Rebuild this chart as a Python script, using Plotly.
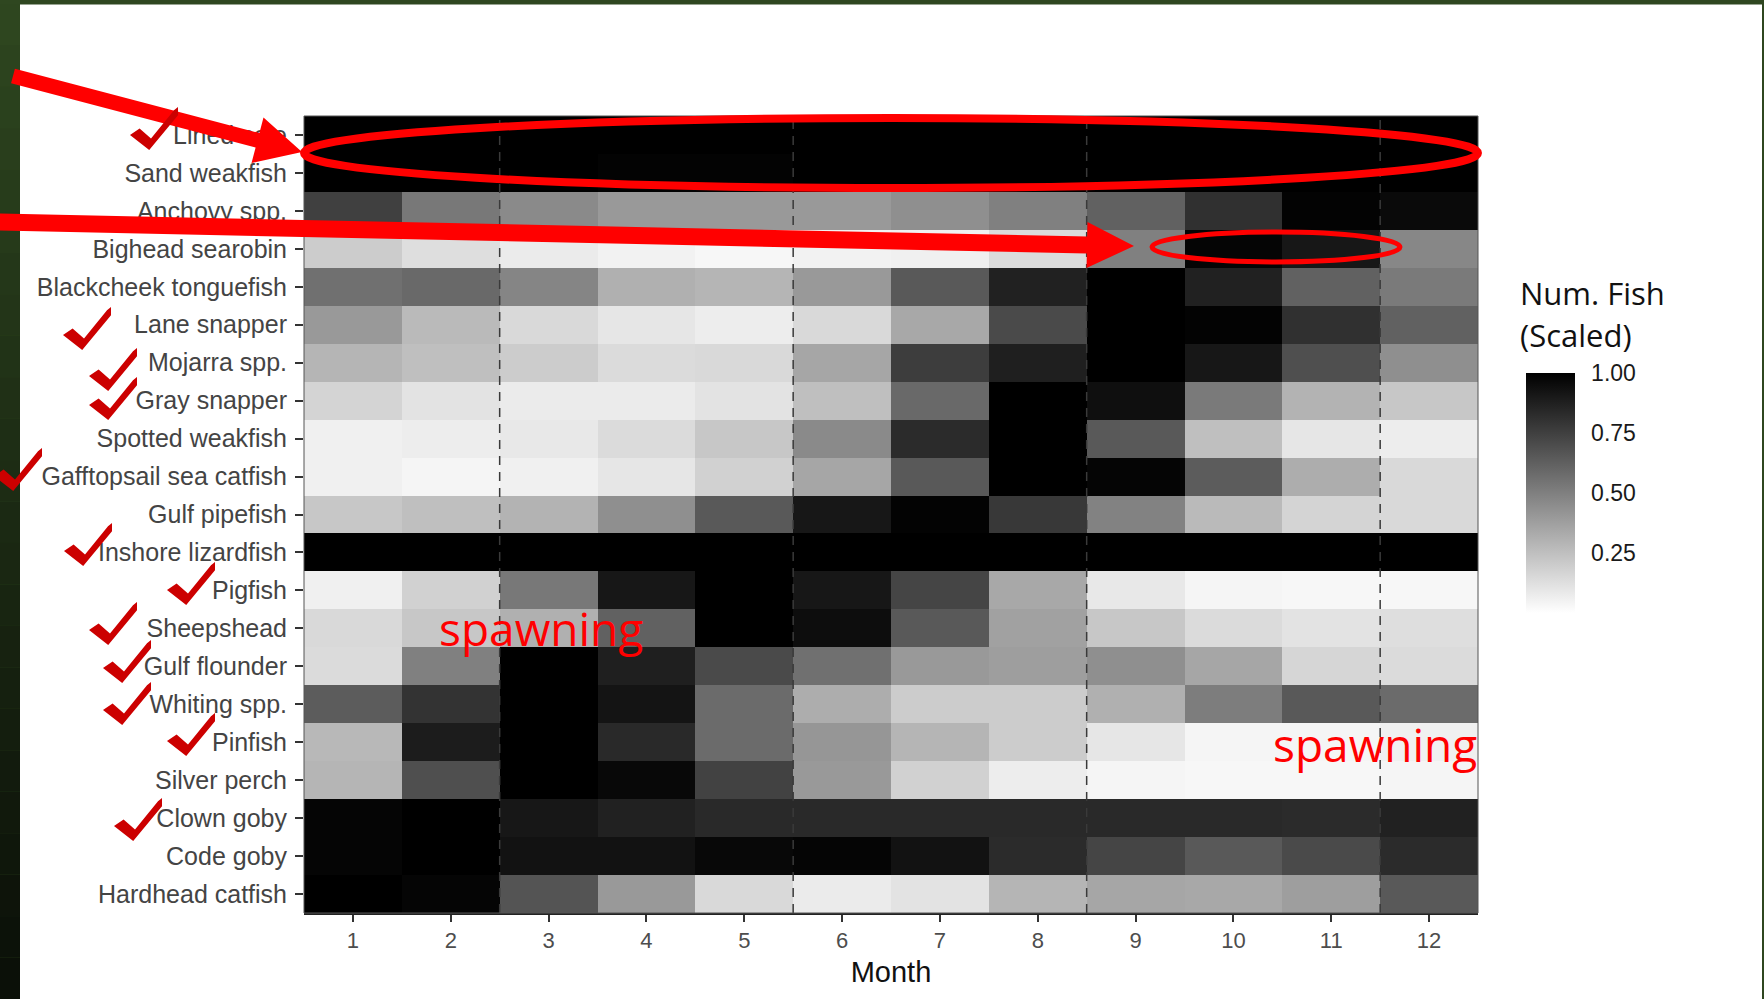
import plotly.graph_objects as go

# ---------------- data ----------------
species = ["Lined sole", "Sand weakfish", "Anchovy spp.", "Bighead searobin",
           "Blackcheek tonguefish", "Lane snapper", "Mojarra spp.", "Gray snapper",
           "Spotted weakfish", "Gafftopsail sea catfish", "Gulf pipefish",
           "Inshore lizardfish", "Pigfish", "Sheepshead", "Gulf flounder",
           "Whiting spp.", "Pinfish", "Silver perch", "Clown goby", "Code goby",
           "Hardhead catfish"]
months = [1, 2, 3, 4, 5, 6, 7, 8, 9, 10, 11, 12]
month_labels = ["1", "2", "3", "4", "5", "6", "7", "8", "9", "10", "11", "12"]

lined_sole         = [1.00, 1.00, 1.00, 1.00, 1.00, 1.00, 1.00, 1.00, 1.00, 1.00, 1.00, 1.00]
sand_weakfish      = [1.00, 1.00, 1.00, 0.99, 0.99, 1.00, 1.00, 1.00, 1.00, 1.00, 1.00, 1.00]
anchovy            = [0.75, 0.53, 0.46, 0.40, 0.40, 0.40, 0.44, 0.50, 0.62, 0.81, 0.99, 0.96]
bighead_searobin   = [0.20, 0.13, 0.08, 0.05, 0.03, 0.05, 0.06, 0.14, 0.50, 0.98, 0.91, 0.47]
blackcheek         = [0.56, 0.59, 0.48, 0.31, 0.29, 0.40, 0.65, 0.87, 1.00, 0.87, 0.62, 0.52]
lane_snapper       = [0.40, 0.27, 0.15, 0.10, 0.07, 0.15, 0.34, 0.71, 1.00, 0.99, 0.81, 0.62]
mojarra            = [0.29, 0.25, 0.20, 0.14, 0.15, 0.35, 0.76, 0.88, 1.00, 0.91, 0.69, 0.44]
gray_snapper       = [0.17, 0.11, 0.08, 0.08, 0.11, 0.25, 0.59, 1.00, 0.94, 0.52, 0.30, 0.22]
spotted_weakfish   = [0.06, 0.07, 0.09, 0.14, 0.22, 0.46, 0.83, 1.00, 0.65, 0.25, 0.10, 0.07]
gafftopsail        = [0.06, 0.04, 0.06, 0.10, 0.18, 0.35, 0.65, 1.00, 0.98, 0.64, 0.32, 0.15]
gulf_pipefish      = [0.22, 0.25, 0.30, 0.44, 0.65, 0.91, 0.99, 0.78, 0.49, 0.27, 0.17, 0.15]
inshore_lizardfish = [1.00, 1.00, 1.00, 1.00, 1.00, 1.00, 1.00, 1.00, 1.00, 1.00, 1.00, 1.00]
pigfish            = [0.06, 0.18, 0.53, 0.91, 1.00, 0.91, 0.73, 0.34, 0.09, 0.04, 0.03, 0.03]
sheepshead         = [0.15, 0.22, 0.31, 0.62, 1.00, 0.95, 0.65, 0.37, 0.22, 0.14, 0.11, 0.13]
gulf_flounder      = [0.14, 0.50, 1.00, 0.88, 0.71, 0.56, 0.40, 0.38, 0.44, 0.35, 0.16, 0.14]
whiting            = [0.64, 0.80, 1.00, 0.92, 0.58, 0.32, 0.20, 0.20, 0.31, 0.51, 0.65, 0.58]
pinfish            = [0.28, 0.89, 1.00, 0.84, 0.58, 0.41, 0.29, 0.20, 0.10, 0.04, 0.04, 0.06]
silver_perch       = [0.29, 0.69, 1.00, 0.97, 0.74, 0.40, 0.18, 0.07, 0.04, 0.03, 0.03, 0.04]
clown_goby         = [0.98, 1.00, 0.91, 0.87, 0.84, 0.84, 0.84, 0.84, 0.84, 0.84, 0.83, 0.87]
code_goby          = [0.98, 1.00, 0.93, 0.93, 0.97, 0.98, 0.93, 0.83, 0.73, 0.65, 0.71, 0.83]
hardhead_catfish   = [1.00, 0.98, 0.67, 0.40, 0.15, 0.08, 0.11, 0.29, 0.35, 0.34, 0.38, 0.65]

season_breaks = [2.5, 5.5, 8.5, 11.5]
cbar_ticks = [0.25, 0.50, 0.75, 1.00]
cbar_ticktext = ["0.25", "0.50", "0.75", "1.00"]

z = [lined_sole, sand_weakfish, anchovy, bighead_searobin, blackcheek, lane_snapper,
     mojarra, gray_snapper, spotted_weakfish, gafftopsail, gulf_pipefish,
     inshore_lizardfish, pigfish, sheepshead, gulf_flounder, whiting, pinfish,
     silver_perch, clown_goby, code_goby, hardhead_catfish]

# ---------------- layout geometry (pixels) ----------------
W, H = 1764, 999
PL, PR, PT, PB = 304, 1478, 116, 913
CB_X, CB_W, CB_TOP, CB_BOT = 1526, 49, 373, 613


def P(x, y):
    return ((x - PL) / (PR - PL), (PB - y) / (PB - PT))


def poly_path(pts):
    s = []
    for i, (x, y) in enumerate(pts):
        u, v = P(x, y)
        s.append(("M" if i == 0 else "L") + f"{u:.5f},{v:.5f}")
    return " ".join(s) + " Z"


def arrow_pts(x0, y0, x1, y1, w, hl, hw):
    dx, dy = x1 - x0, y1 - y0
    L = (dx * dx + dy * dy) ** 0.5
    ux, uy = dx / L, dy / L
    nx, ny = -uy, ux
    bx, by = x1 - ux * hl, y1 - uy * hl
    return [(x0 + nx * w / 2, y0 + ny * w / 2), (bx + nx * w / 2, by + ny * w / 2),
            (bx + nx * hw / 2, by + ny * hw / 2), (x1, y1),
            (bx - nx * hw / 2, by - ny * hw / 2), (bx - nx * w / 2, by - ny * w / 2),
            (x0 - nx * w / 2, y0 - ny * w / 2)]


CHECK = [(0, 28), (9.6, 21.5), (21, 31.4), (44, 3.3), (48, 0), (48, 8.3), (19.2, 43)]
check_pos = [(130, 107), (63, 307), (89, 348), (89, 377), (-6, 448), (64, 523),
             (167, 562), (89, 602), (103, 640), (103, 682), (167, 713), (114, 798)]

shapes = []

# background: green frame with white slide
x0p, y0p = P(0, H)
x1p, y1p = P(W, 0)
shapes.append(dict(type="rect", xref="paper", yref="paper", x0=x0p, x1=x1p, y0=y0p, y1=y1p,
                   fillcolor="#2f4720", line=dict(width=0), layer="below"))
nb = 24
for i in range(nb):
    t = i / (nb - 1)
    r = int(46 + (11 - 46) * t)
    g = int(70 + (16 - 70) * t)
    b = int(31 + (8 - 31) * t)
    a0 = P(0, 4 + i * (H - 4) / nb)
    a1 = P(20, 4 + (i + 1) * (H - 4) / nb)
    shapes.append(dict(type="rect", xref="paper", yref="paper", x0=a0[0], x1=a1[0],
                       y0=a1[1], y1=a0[1], fillcolor=f"rgb({r},{g},{b})",
                       line=dict(width=0), layer="below"))
w0 = P(20, H)
w1 = P(1762, 4.5)
shapes.append(dict(type="rect", xref="paper", yref="paper", x0=w0[0], x1=w1[0], y0=w0[1],
                   y1=w1[1], fillcolor="white", line=dict(width=0), layer="below"))

# season dashed lines
for xb in season_breaks:
    shapes.append(dict(type="line", xref="x", yref="paper", x0=xb, x1=xb, y0=0, y1=1,
                       line=dict(color="#3a3a3a", width=1.5, dash="9px,7px"), layer="above"))

# panel border
shapes.append(dict(type="rect", xref="paper", yref="paper", x0=0, x1=1, y0=0, y1=1,
                   line=dict(color="#555555", width=1), layer="above"))

# colorbar white ticks
for v in cbar_ticks[:-1]:
    yy = CB_TOP + (1 - v) * (CB_BOT - CB_TOP)
    for xa, xb2 in [(CB_X, CB_X + 9), (CB_X + CB_W - 9, CB_X + CB_W)]:
        p0 = P(xa, yy)
        p1 = P(xb2, yy)
        shapes.append(dict(type="line", xref="paper", yref="paper", x0=p0[0], x1=p1[0],
                           y0=p0[1], y1=p1[1], line=dict(color="white", width=1.5),
                           layer="above"))

# red ellipses
e0 = P(304, 188)
e1 = P(1478, 118)
shapes.append(dict(type="circle", xref="paper", yref="paper", x0=e0[0], x1=e1[0], y0=e0[1],
                   y1=e1[1], line=dict(color="#ff0000", width=8), layer="above"))
s0 = P(1152, 262)
s1 = P(1400, 232)
shapes.append(dict(type="circle", xref="paper", yref="paper", x0=s0[0], x1=s1[0], y0=s0[1],
                   y1=s1[1], line=dict(color="#ff0000", width=5), layer="above"))

# red arrows
for a in [arrow_pts(13, 76, 302, 152, 15, 46, 47), arrow_pts(-2, 222, 1134, 246, 17, 47, 46)]:
    shapes.append(dict(type="path", xref="paper", yref="paper", path=poly_path(a),
                       fillcolor="#ff0000", line=dict(width=0), layer="above"))

# check marks
for (cx, cy) in check_pos:
    pts = [(cx + px, cy + py) for px, py in CHECK]
    shapes.append(dict(type="path", xref="paper", yref="paper", path=poly_path(pts),
                       fillcolor="#cc0000", line=dict(width=0), layer="above"))

annotations = []
for txt, (x, y) in [("spawning", (541, 628)), ("spawning", (1375, 744))]:
    u, v = P(x, y)
    annotations.append(dict(text=txt, x=u, y=v, xref="paper", yref="paper", showarrow=False,
                            xanchor="center", yanchor="middle",
                            font=dict(family="Open Sans", size=46, color="#ff0000")))
for txt, (x, y) in [("Num. Fish", (1518, 293)), ("(Scaled)", (1518, 335))]:
    u, v = P(x, y)
    annotations.append(dict(text=txt, x=u, y=v, xref="paper", yref="paper", showarrow=False,
                            xanchor="left", yanchor="middle",
                            font=dict(family="Open Sans", size=31, color="#111111")))

cbx, cby = P(CB_X, (CB_TOP + CB_BOT) / 2)
fig = go.Figure(go.Heatmap(
    z=z, x=months, y=species,
    colorscale=[[0, "#ffffff"], [1, "#000000"]], zmin=0, zmax=1,
    colorbar=dict(
        x=cbx, xref="paper", xanchor="left", xpad=0,
        y=cby, yref="paper", yanchor="middle", ypad=0,
        lenmode="pixels", len=CB_BOT - CB_TOP, thickness=CB_W, thicknessmode="pixels",
        outlinewidth=0, ticks="outside", ticklen=12, tickcolor="rgba(0,0,0,0)",
        tickvals=cbar_ticks, ticktext=cbar_ticktext,
        tickfont=dict(family="Liberation Sans", size=23, color="#1a1a1a"),
    ),
    hoverongaps=False,
))

fig.update_layout(
    width=W, height=H,
    margin=dict(l=PL, r=W - PR, t=PT, b=H - PB, autoexpand=False),
    paper_bgcolor="#2f4720", plot_bgcolor="white",
    shapes=shapes, annotations=annotations,
    xaxis=dict(range=[0.5, 12.5], tickvals=months, ticktext=month_labels,
               ticks="outside", ticklen=7, tickwidth=1.5, tickcolor="#333333",
               showgrid=False, zeroline=False, showline=True, linecolor="#222222", linewidth=2,
               tickfont=dict(family="Liberation Sans", size=22, color="#4d4d4d"),
               title=dict(text="Month", standoff=9,
                          font=dict(family="Liberation Sans", size=29, color="#111111"))),
    yaxis=dict(autorange="reversed", ticks="outside", ticklen=8, tickwidth=1.5,
               tickcolor="#333333", showgrid=False, zeroline=False, showline=False,
               ticklabelstandoff=3,
               tickfont=dict(family="Liberation Sans", size=25, color="#444444")),
    showlegend=False,
)

fig.write_html("out.html", config={"displayModeBar": False},
               post_script="document.body.style.margin='0px';document.body.style.overflow='hidden';")
